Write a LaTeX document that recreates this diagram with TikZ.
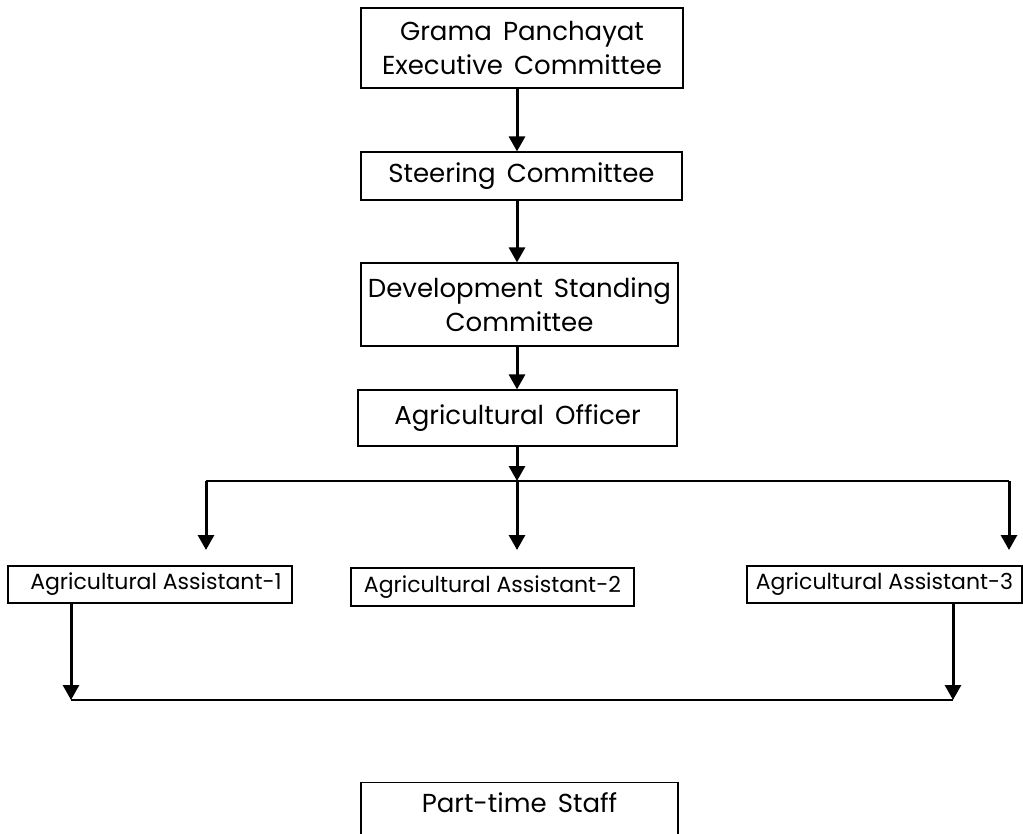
\documentclass[tikz,border=0pt]{standalone}
\usepackage{fontspec}
\setmainfont{Poppins}
\newfontfamily\wideface{Poppins}[WordSpace=1.6]
\usetikzlibrary{arrows.meta}
\tikzset{
  box/.style={draw, line width=1.2pt, align=center, inner sep=0pt,
    font=\wideface\fontsize{26}{34}\selectfont},
  sbox/.style={box, font=\rmfamily\fontsize{22}{26}\selectfont},
  arr/.style={-{Triangle[width=16pt,length=15pt]}, line width=3pt},
  link/.style={line width=1.2pt},
}
\begin{document}
\begin{tikzpicture}[x=1pt,y=-1pt]
\useasboundingbox (0,0) rectangle (1023,834);
% top chain
\node[box, minimum width=322, minimum height=80] (gp) at (522,48) {Grama Panchayat\\Executive Committee};
\node[box, minimum width=321, minimum height=48] (sc) at (521.5,176) {Steering Committee};
\node[box, minimum width=317, minimum height=83] (dsc) at (519.5,304.5) {Development Standing\\Committee};
\node[box, minimum width=319, minimum height=56] (ao) at (517.5,418) {Agricultural Officer};
\coordinate (axis) at (517,0);
\draw[arr] (gp.south -| axis) -- (sc.north -| axis);
\draw[arr] (sc.south -| axis) -- (dsc.north -| axis);
\draw[arr] (dsc.south -| axis) -- (ao.north -| axis);
% assistants
\node[sbox, minimum width=284, minimum height=37] (a1) at (150,584.5) {\hspace*{12pt}Agricultural Assistant-1};
\node[sbox, minimum width=283, minimum height=38] (a2) at (492.5,587) {Agricultural Assistant-2};
\node[sbox, minimum width=275, minimum height=37] (a3) at (884.5,584.5) {Agricultural Assistant-3};
\coordinate (j0) at (517,481);
\coordinate (j1) at (206,481);
\coordinate (j3) at (1009,481);
\coordinate (t1) at (206,550);
\coordinate (t2) at (517,550);
\coordinate (t3) at (1009,550);
\draw[arr] (ao.south -| axis) -- (j0);
\draw[link] (j1) -- (j3);
\draw[arr] (j1) -- (t1);
\draw[arr] (j0) -- (t2);
\draw[arr] (j3) -- (t3);
% staff
\coordinate (b1) at (71,700);
\coordinate (b3) at (953,700);
\draw[arr] (a1.south -| b1) -- (b1);
\draw[arr] (a3.south -| b3) -- (b3);
\draw[link] (b1) -- (b3);
\node[box, anchor=north, minimum width=317, text height=18, text depth=40, inner ysep=12] (pts) at (519.5,782) {Part-time Staff};
\end{tikzpicture}
\end{document}
